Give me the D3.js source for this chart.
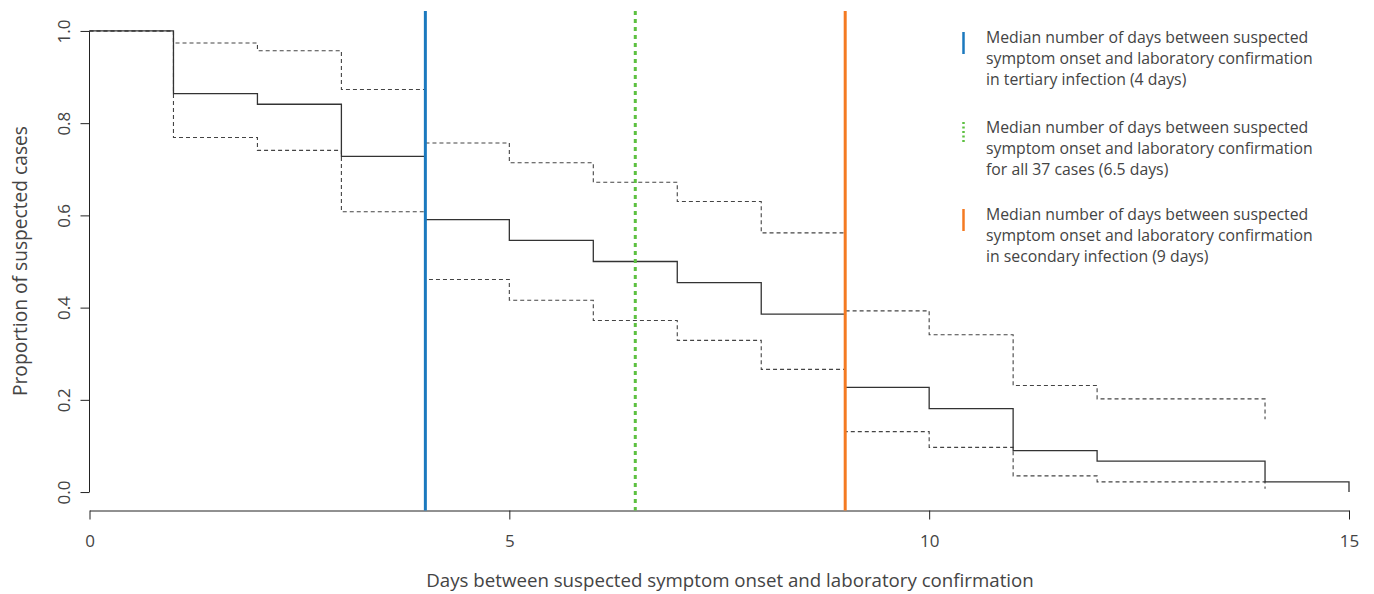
<!DOCTYPE html>
<html>
<head>
  <meta charset="utf-8">
  <script src="https://d3js.org/d3.v7.min.js"></script>
  <style>
    body { margin: 0; background: #fff; }
    text { font-family: "Open Sans", sans-serif; fill: #444; }
    .axis path, .axis line { stroke: #222; }
    .axis text { font-size: 17px; fill: #444; font-family: "Open Sans", sans-serif; }
  </style>
</head>
<body>
  <svg id="chart" width="1374" height="594"></svg>
  <script>
    // Kaplan-Meier estimate and 95% CI
    const kmTimes = [0, 1, 2, 3, 4, 5, 6, 7, 8, 9, 10, 11, 12, 14, 15];
    const kmSurv = [1.0, 0.864, 0.841, 0.728, 0.591, 0.546, 0.5, 0.454, 0.386, 0.227, 0.181, 0.090, 0.067, 0.022, 0.0];

    const ciTimes = [0, 1, 2, 3, 4, 5, 6, 7, 8, 9, 10, 11, 12, 14];
    const ciUpper = [1.0, 0.974, 0.957, 0.873, 0.757, 0.714, 0.672, 0.630, 0.562, 0.393, 0.341, 0.231, 0.202, 0.158];
    const ciLower = [1.0, 0.769, 0.741, 0.608, 0.461, 0.416, 0.372, 0.329, 0.266, 0.131, 0.097, 0.035, 0.022, 0.007];

    // median lines
    const medianDays = [4, 6.5, 9];
    const medianColors = ["#1b79be", "#5cc040", "#f47a22"];
    const medianDash = [null, "4,4", null];
    const legendLabels = [
      ["Median number of days between suspected", "symptom onset and laboratory confirmation", "in tertiary infection (4 days)"],
      ["Median number of days between suspected", "symptom onset and laboratory confirmation", "for all 37 cases (6.5 days)"],
      ["Median number of days between suspected", "symptom onset and laboratory confirmation", "in secondary infection (9 days)"]
    ];

    const xTicks = [0, 5, 10, 15];
    const yTicks = [0, 0.2, 0.4, 0.6, 0.8, 1.0];

    const svg = d3.select("svg#chart");

    // R style plot region: y limits padded by 4%
    const x = d3.scaleLinear().domain([0, 15]).range([89.5, 1349]);
    const y = d3.scaleLinear().domain([-0.04, 1.04]).range([510.5, 12.5]);

    // axes
    const yAxis = d3.axisLeft(y).tickValues(yTicks).tickSize(9).tickSizeOuter(0)
      .tickFormat(d3.format(".1f")).tickPadding(8);
    const yG = svg.append("g").attr("class", "axis")
      .attr("transform", `translate(${x(0)},0)`)
      .call(yAxis);
    yG.select(".domain").attr("d", `M0,${y(0)}V${y(1)}`);
    yG.selectAll(".tick text")
      .attr("transform", "rotate(-90)")
      .attr("x", 0).attr("y", -25)
      .attr("dy", "0.35em")
      .style("text-anchor", "middle");

    const xAxis = d3.axisBottom(x).tickValues(xTicks).tickSize(9).tickSizeOuter(0).tickPadding(15);
    svg.append("g").attr("class", "axis")
      .attr("transform", `translate(0,${y(-0.04)})`)
      .call(xAxis);

    // axis titles
    svg.append("text")
      .attr("x", 730).attr("y", 587)
      .attr("text-anchor", "middle")
      .style("font-size", "18.7px")
      .text("Days between suspected symptom onset and laboratory confirmation");

    svg.append("text")
      .attr("transform", "rotate(-90)")
      .attr("x", -261).attr("y", 27)
      .attr("text-anchor", "middle")
      .style("font-size", "19.2px")
      .text("Proportion of suspected cases");

    // step lines
    const step = d3.line().curve(d3.curveStepAfter)
      .x(d => x(d[0])).y(d => y(d[1]));

    svg.append("path")
      .attr("d", step(d3.zip(ciTimes, ciUpper)))
      .attr("fill", "none").attr("stroke", "#444").attr("stroke-width", 1.1)
      .attr("stroke-dasharray", "4,3");
    svg.append("path")
      .attr("d", step(d3.zip(ciTimes, ciLower)))
      .attr("fill", "none").attr("stroke", "#444").attr("stroke-width", 1.1)
      .attr("stroke-dasharray", "4,3");
    svg.append("path")
      .attr("d", step(d3.zip(kmTimes, kmSurv)))
      .attr("fill", "none").attr("stroke", "#333").attr("stroke-width", 1.3);

    // median lines across the plot region
    medianDays.forEach((m, i) => {
      svg.append("line")
        .attr("x1", x(m)).attr("x2", x(m))
        .attr("y1", y(1.04) - 1.5).attr("y2", y(-0.04))
        .attr("stroke", medianColors[i])
        .attr("stroke-width", 3)
        .attr("stroke-dasharray", medianDash[i]);
    });

    // legend
    const legendTop = [43, 133, 220];
    legendLabels.forEach((lines, i) => {
      svg.append("line")
        .attr("x1", 963.5).attr("x2", 963.5)
        .attr("y1", legendTop[i] - 11).attr("y2", legendTop[i] + 11)
        .attr("stroke", medianColors[i])
        .attr("stroke-width", 2.5)
        .attr("stroke-dasharray", medianDash[i] ? "2,2.5" : null);
      lines.forEach((t, j) => {
        svg.append("text")
          .attr("x", 986).attr("y", legendTop[i] + j * 21)
          .style("font-size", "15.8px")
          .text(t);
      });
    });
  </script>
</body>
</html>
